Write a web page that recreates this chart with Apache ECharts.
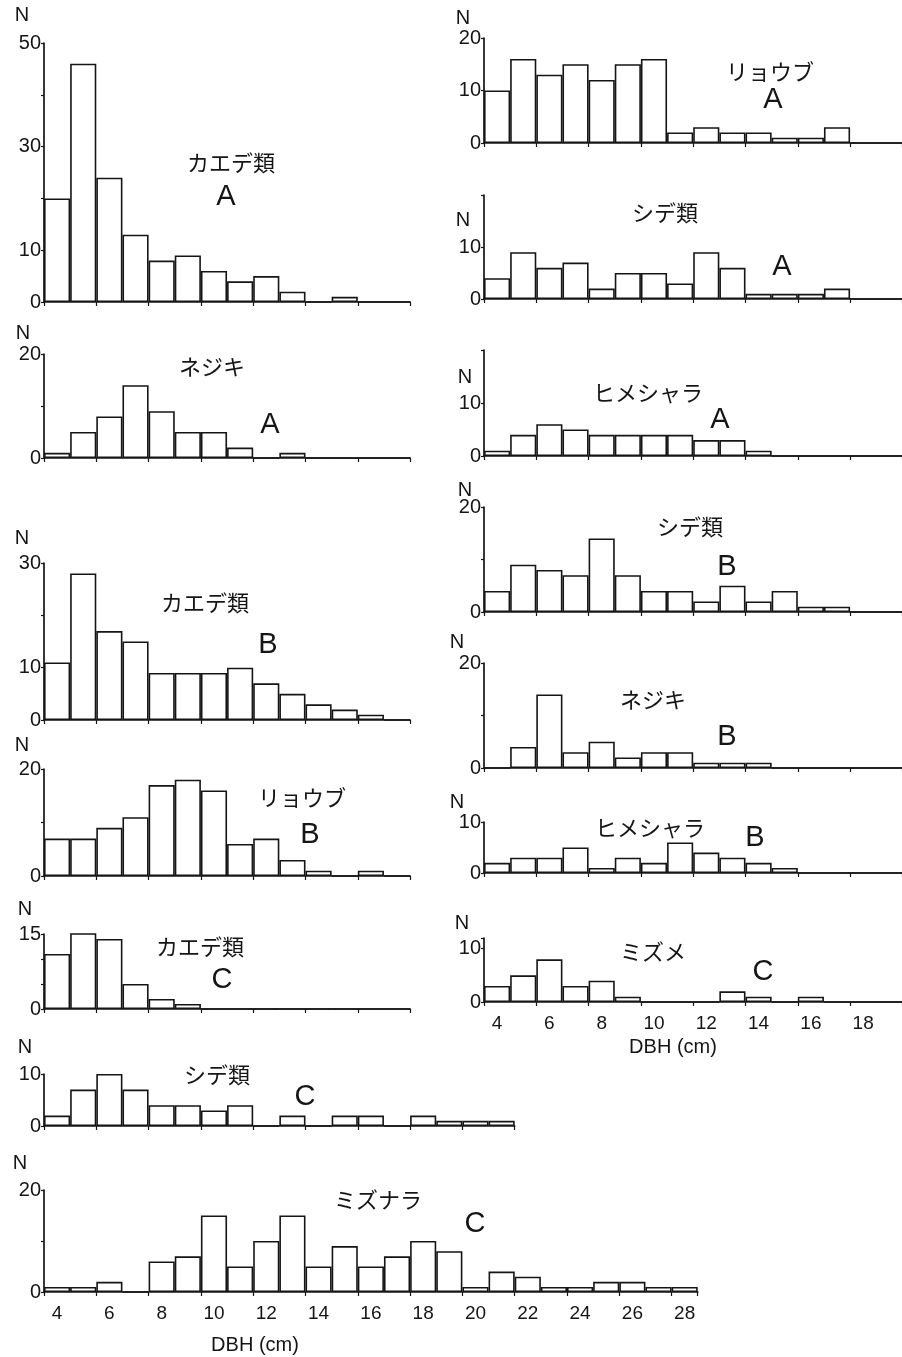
<!DOCTYPE html>
<html>
<head>
<meta charset="utf-8">
<script src="https://cdn.jsdelivr.net/npm/echarts@6/dist/echarts.min.js"></script>
<style>
  html, body { margin: 0; background: #fff; }
  #chart { width: 902px; height: 1357px; }
</style>
</head>
<body>
<div id="chart"></div>
<script>
// DBH classes (cm)
const dbh14 = ['4','5','6','7','8','9','10','11','12','13','14','15','16','17'];
const dbh16 = ['4','5','6','7','8','9','10','11','12','13','14','15','16','17','18','19'];
const dbh18 = ['4','5','6','7','8','9','10','11','12','13','14','15','16','17','18','19','20','21'];
const dbh25 = ['4','5','6','7','8','9','10','11','12','13','14','15','16','17','18','19','20','21','22','23','24','25','26','27','28'];

// number of trees per DBH class
const kaedeA    = [20,46,24,13,8,9,6,4,5,2,0,1,0,0];
const nejikiA   = [1,5,8,14,9,5,5,2,0,1,0,0,0,0];
const kaedeB    = [11,28,17,15,9,9,9,10,7,5,3,2,1,0];
const ryoubuB   = [7,7,9,11,17,18,16,6,7,3,1,0,1,0];
const kaedeC    = [11,16,14,5,2,1,0,0,0,0,0,0,0,0];
const shideC    = [2,7,10,7,4,4,3,4,0,2,0,2,2,0,2,1,1,1];
const mizunaraC = [1,1,2,0,6,7,15,5,10,15,5,9,5,7,10,8,1,4,3,1,1,2,2,1,1];
const ryoubuA   = [10,16,13,15,12,15,16,2,3,2,2,1,1,3,0,0];
const shideA    = [4,9,6,7,2,5,5,3,9,6,1,1,1,2,0,0];
const himeA     = [1,4,6,5,4,4,4,4,3,3,1,0,0,0,0,0];
const shideB    = [4,9,8,7,14,7,4,4,2,5,2,4,1,1,0,0];
const nejikiB   = [0,4,14,3,5,2,3,3,1,1,1,0,0,0,0,0];
const himeB     = [2,3,3,5,1,3,2,6,4,3,2,1,0,0,0,0];
const mizumeC   = [3,5,8,3,4,1,0,0,0,2,1,0,1,0,0,0];

// panel layout (pixels)
const panels = [
  { cats: dbh14, data: kaedeA,    left: 44,  top: 43,   h: 259, max: 50, step: 10, labels: [0,10,30,50], n: [22,15],    title: 'カエデ類',   tp: [231,163],  tag: 'A', gp: [226,197] },
  { cats: dbh14, data: nejikiA,   left: 44,  top: 354,  h: 104, max: 20, step: 10, labels: [0,20],       n: [23,333],   title: 'ネジキ',     tp: [212,367],  tag: 'A', gp: [270,425] },
  { cats: dbh14, data: kaedeB,    left: 44,  top: 563,  h: 157, max: 30, step: 10, labels: [0,10,30],    n: [22,538],   title: 'カエデ類',   tp: [205,603],  tag: 'B', gp: [268,645] },
  { cats: dbh14, data: ryoubuB,   left: 44,  top: 769,  h: 107, max: 20, step: 10, labels: [0,20],       n: [22,745],   title: 'リョウブ',   tp: [302,798],  tag: 'B', gp: [310,835] },
  { cats: dbh14, data: kaedeC,    left: 44,  top: 934,  h: 75,  max: 15, step: 5,  labels: [0,15],       n: [25,909],   title: 'カエデ類',   tp: [200,947],  tag: 'C', gp: [222,980] },
  { cats: dbh18, data: shideC,    left: 44,  top: 1074, h: 52,  max: 10, step: 10, labels: [0,10],       n: [25,1047],  title: 'シデ類',     tp: [217,1075], tag: 'C', gp: [305,1097] },
  { cats: dbh25, data: mizunaraC, left: 44,  top: 1190, h: 102, max: 20, step: 10, labels: [0,20],       n: [20,1163],  title: 'ミズナラ',   tp: [378,1200], tag: 'C', gp: [475,1224], showX: true, xn: [255,1345] },
  { cats: dbh16, data: ryoubuA,   left: 484, top: 38,   h: 105, max: 20, step: 10, labels: [0,10,20],    n: [463,18],   title: 'リョウブ',   tp: [770,72],   tag: 'A', gp: [773,100] },
  { cats: dbh16, data: shideA,    left: 484, top: 195,  h: 104, max: 20, step: 10, labels: [0,10],       n: [463,220],  title: 'シデ類',     tp: [665,213],  tag: 'A', gp: [782,267] },
  { cats: dbh16, data: himeA,     left: 484, top: 350,  h: 106, max: 20, step: 10, labels: [0,10],       n: [465,377],  title: 'ヒメシャラ', tp: [648,393],  tag: 'A', gp: [720,420] },
  { cats: dbh16, data: shideB,    left: 484, top: 507,  h: 105, max: 20, step: 10, labels: [0,20],       n: [465,490],  title: 'シデ類',     tp: [690,527],  tag: 'B', gp: [727,567] },
  { cats: dbh16, data: nejikiB,   left: 484, top: 663,  h: 105, max: 20, step: 10, labels: [0,20],       n: [457,642],  title: 'ネジキ',     tp: [653,700],  tag: 'B', gp: [727,737] },
  { cats: dbh16, data: himeB,     left: 484, top: 822,  h: 51,  max: 10, step: 10, labels: [0,10],       n: [457,802],  title: 'ヒメシャラ', tp: [650,828],  tag: 'B', gp: [755,838] },
  { cats: dbh16, data: mizumeC,   left: 484, top: 938,  h: 64,  max: 12, step: 10, labels: [0,10],       n: [462,923],  title: 'ミズメ',     tp: [653,952],  tag: 'C', gp: [763,972], showX: true, xn: [673,1047] }
];

const ink = '#151515';
const numFont = '"Liberation Sans", "DejaVu Sans", sans-serif';
const jpFont = '"Noto Sans CJK JP", sans-serif';
const barW = 26.15;

const chart = echarts.init(document.getElementById('chart'), null, { renderer: 'canvas' });

const grid = [], xAxis = [], yAxis = [], series = [], graphic = [];

panels.forEach((p, i) => {
  grid.push({ left: p.left, top: p.top, width: p.cats.length * barW, height: p.h, outerBoundsMode: 'none' });
  xAxis.push({
    type: 'category', gridIndex: i, data: p.cats, boundaryGap: true,
    axisLine: { lineStyle: { color: ink, width: 1.7 } },
    axisTick: { show: true, length: 4, lineStyle: { color: ink, width: 1.2 } },
    axisLabel: { show: !!p.showX, interval: 1, color: ink, fontSize: 19, fontFamily: numFont, margin: 12 },
    splitLine: { show: false }
  });
  yAxis.push({
    type: 'value', gridIndex: i, min: 0, max: p.max, interval: p.step,
    axisLine: { show: true, lineStyle: { color: ink, width: 1.7 } },
    axisTick: { show: true, length: 3, lineStyle: { color: ink, width: 1.2 } },
    axisLabel: {
      color: ink, fontSize: 20, fontFamily: numFont, margin: 3,
      formatter: v => (p.labels.indexOf(v) >= 0 ? String(v) : '')
    },
    splitLine: { show: false }
  });
  series.push({
    type: 'bar', xAxisIndex: i, yAxisIndex: i, data: p.data,
    barCategoryGap: '0%', silent: true,
    itemStyle: { color: '#fff', borderColor: ink, borderWidth: 1.6 }
  });

  graphic.push({ type: 'text', style: { text: 'N', x: p.n[0], y: p.n[1], align: 'center', verticalAlign: 'middle', fontSize: 20, fontFamily: numFont, fill: ink } });
  graphic.push({ type: 'text', style: { text: p.title, x: p.tp[0], y: p.tp[1], align: 'center', verticalAlign: 'middle', fontSize: 22, fontFamily: jpFont, fill: ink } });
  graphic.push({ type: 'text', style: { text: p.tag, x: p.gp[0], y: p.gp[1], align: 'center', verticalAlign: 'middle', fontSize: 29, fontFamily: numFont, fill: ink } });
  if (p.xn) {
    graphic.push({ type: 'text', style: { text: 'DBH (cm)', x: p.xn[0], y: p.xn[1], align: 'center', verticalAlign: 'middle', fontSize: 20, fontFamily: numFont, fill: ink } });
  }
});

chart.setOption({
  backgroundColor: '#fff',
  animation: false,
  grid: grid,
  xAxis: xAxis,
  yAxis: yAxis,
  series: series,
  graphic: graphic
});
</script>
</body>
</html>
